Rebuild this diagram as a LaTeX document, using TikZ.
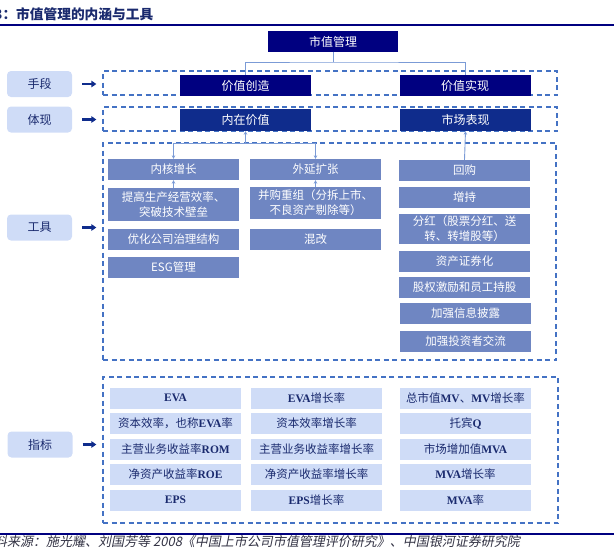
\documentclass[tikz,border=0pt]{standalone}
\usepackage{fontspec}
\setmainfont{Noto Sans CJK SC}
\newfontfamily\enfont{Liberation Serif}
\newfontfamily\capfont[FakeSlant=0.2]{Noto Sans CJK SC}
\usetikzlibrary{arrows.meta}
\definecolor{navy}{HTML}{000080}
\definecolor{navyb}{HTML}{0F2C8C}
\definecolor{toolblue}{HTML}{6F86C2}
\definecolor{lightb}{HTML}{CFDCF7}
\definecolor{dashb}{HTML}{4472C4}
\definecolor{linkb}{HTML}{7B9BD6}
\definecolor{txtb}{HTML}{1A2A6E}
\definecolor{capc}{HTML}{333344}
\newcommand{\en}[1]{{\enfont\bfseries #1}}

\begin{document}
\begin{tikzpicture}[x=1pt, y=-1pt, >={Stealth[length=3.5pt,width=3.5pt]},
  top/.style={fill=navy, text=white, minimum width=131pt, minimum height=21pt, inner sep=0pt, font=\fontsize{12}{14}\selectfont},
  mid/.style={top, fill=navyb, minimum height=22pt},
  tool/.style={fill=toolblue, text=white, minimum width=131pt, minimum height=21pt, inner sep=0pt, align=center, font=\fontsize{11.5}{15}\selectfont},
  zb/.style={fill=lightb, text=txtb, minimum width=131pt, minimum height=21pt, inner sep=0pt, font=\fontsize{11.5}{14}\selectfont},
  tag/.style={fill=lightb, text=txtb, rounded corners=4pt, minimum width=65pt, minimum height=26pt, inner sep=0pt, font=\fontsize{12}{14}\selectfont},
  grp/.style={draw=dashb, line width=1.3pt, dash pattern=on 5pt off 3.5pt, inner sep=0pt},
  link/.style={draw=linkb, line width=0.9pt},
  fat/.style={-{Triangle[length=5pt,width=6.5pt]}, line width=2.6pt, draw=navyb}]
\useasboundingbox (0,0) rectangle (614,547);

% title and rules
\node[anchor=west, inner sep=0pt, text=txtb, font=\bfseries\fontsize{13.7}{16}\selectfont] (tt) at (-6,14) {3：市值管理的内涵与工具};
\draw[navy, line width=2.2pt] (0,25) -- (614,25);
\draw[navy, line width=2.2pt] (0,534) -- (614,534);
\node[anchor=west, inner sep=0pt, text=capc, font=\capfont\fontsize{13}{15}\selectfont] (src) at (-6,542) {料来源：施光耀、刘国芳等 2008《中国上市公司市值管理评价研究》、中国银河证券研究院};

% dashed groups
\node[grp, minimum width=454pt, minimum height=24pt] (g1) at (330,83) {};
\node[grp, minimum width=454pt, minimum height=24pt] (g2) at (330,119) {};
\node[grp, minimum width=453pt, minimum height=217pt] (g3) at (329.5,251.5) {};
\node[grp, minimum width=455pt, minimum height=146pt] (g4) at (330.5,450) {};

% left tags
\node[tag] (t1) at (39.5,84) {手段};
\node[tag] (t2) at (39.5,119.5) {体现};
\node[tag] (t3) at (39.5,227.5) {工具};
\node[tag] (t4) at (40,444.5) {指标};
\foreach \i in {1,...,4}
  \draw[fat] ([xshift=10pt]t\i.east) -- ([xshift=-6pt]g\i.west |- t\i.east);

% top levels
\node[top, minimum width=130pt] (sz) at (333,41.5) {市值管理};
\node[top] (cz) at (245.5,85.5) {价值创造};
\node[top] (sx) at (465,85.5) {价值实现};
\node[mid] (nz) at (245.5,120) {内在价值};
\node[mid] (sc) at (465.5,120) {市场表现};

% tools
\node[tool] (nh) at (173.5,169.5) {内核增长};
\node[tool, minimum height=33pt] (tg) at (173.5,204.5) {提高生产经营效率、\\突破技术壁垒};
\node[tool] (yh) at (173.5,239.5) {优化公司治理结构};
\node[tool] (esg) at (173.5,267.5) {ESG管理};
\node[tool] (wy) at (315.5,169.5) {外延扩张};
\node[tool, minimum height=32pt] (bg) at (315.5,203) {并购重组（分拆上市、\\不良资产剔除等）};
\node[tool] (hg2) at (315.5,239.5) {混改};
\node[tool] (hg) at (464.5,170.5) {回购};
\node[tool] (zc) at (464.5,197.5) {增持};
\node[tool, minimum height=30pt] (fh) at (464.5,229) {分红（股票分红、送\\转、转增股等）};
\node[tool] (zq) at (464.5,261) {资产证券化};
\node[tool] (gq) at (464.5,287) {股权激励和员工持股};
\node[tool] (xx) at (465.5,313.5) {加强信息披露};
\node[tool] (jl) at (465.5,341.5) {加强投资者交流};

% connectors
\coordinate (j1) at (333,62);
\coordinate (j2) at (245.5,143);
\draw[link] (sz.south) -- (j1);
\draw[link] (cz.north) |- (j1) -| (sx.north);
\draw[link, <-] (nz.south) -- (j2);
\draw[link, ->] (j2) -| (nh.north);
\draw[link, ->] (j2) -| (wy.north);
\draw[link, <-] (nh.south) -- (tg.north);
\draw[link, <-] (wy.south) -- (bg.north);
\draw[link, <-] (sc.south) -- (hg.north);

% indicators
\foreach \t [count=\i] in {\en{EVA}, 资本效率，也称\en{EVA}率, 主营业务收益率\en{ROM}, 净资产收益率\en{ROE}, \en{EPS}}
  \node[zb] (za\i) at (175.5,{372.5+25.5*\i}) {\t};
\foreach \t [count=\i] in {\en{EVA}增长率, 资本效率增长率, 主营业务收益率增长率, 净资产收益率增长率, \en{EPS}增长率}
  \node[zb] (zb\i) at (316.5,{372.5+25.5*\i}) {\t};
\foreach \t [count=\i] in {总市值\en{MV}、\en{MV}增长率, 托宾\en{Q}, 市场增加值\en{MVA}, \en{MVA}增长率, \en{MVA}率}
  \node[zb] (zc\i) at (465.5,{372.5+25.5*\i}) {\t};
\end{tikzpicture}
\end{document}
